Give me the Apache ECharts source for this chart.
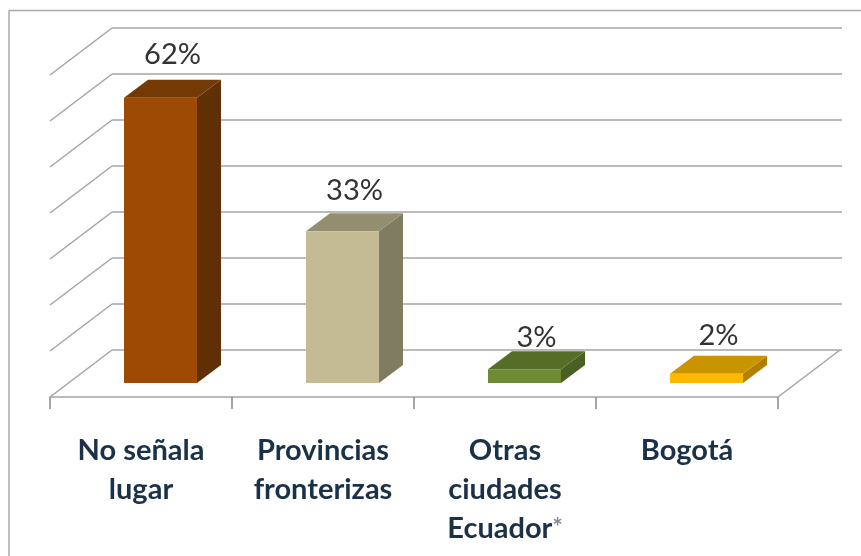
<!DOCTYPE html>
<html>
<head>
<meta charset="utf-8">
<script src="https://cdn.jsdelivr.net/npm/echarts@6/dist/echarts.min.js"></script>
<style>
  html, body { margin: 0; padding: 0; background: #fff; }
  #chart { width: 861px; height: 556px; }
</style>
</head>
<body>
<div id="chart"></div>
<script>
const categories = ['No señala\nlugar', 'Provincias\nfronterizas', 'Otras\nciudades\nEcuador{star|*}', 'Bogotá']
const values     = [62, 33, 3, 2]
const wallTicks  = [0, 10, 20, 30, 40, 50, 60, 70]
const frontFills = ['#9c4a04', '#c4bb94', '#6f8a35', '#fdb900']
const topFills   = ['#733a05', '#948e70', '#556d27', '#c99400']
const sideFills  = ['#5f3003', '#807c62', '#4a5f22', '#b37f00']

// fake 3d: floor depth of the whole plot, then the bar's own depth
const WALL_DX = 62, WALL_DY = 47
const BAR_DX = 24, BAR_DY = 18
const BAR_SHIFT_X = 19.5, BAR_SHIFT_Y = 14, BAR_W = 73
const LABEL_LIFT = [25, 23, 14, 20]
const LINE = '#a4a4a4'

const c = echarts.init(document.getElementById('chart'))

function renderWall(params, api) {
  const v = api.value(0)
  const [, y0] = api.coord([0, v])
  const grid = params.coordSys
  const back = y0 - WALL_DY
  const children = [
    { type: 'line', shape: { x1: grid.x, y1: y0, x2: grid.x + WALL_DX, y2: back },
      style: { stroke: LINE, lineWidth: 1.5 } },
    { type: 'line', shape: { x1: grid.x + WALL_DX, y1: back, x2: grid.x + grid.width + WALL_DX + 2, y2: back },
      style: { stroke: LINE, lineWidth: 1.5 } },
  ]
  if (v === 0) {
    children.push({ type: 'line',
      shape: { x1: grid.x + grid.width, y1: y0, x2: grid.x + grid.width + WALL_DX, y2: back },
      style: { stroke: LINE, lineWidth: 1.5 } })
  }
  return { type: 'group', children }
}

function renderBar(params, api) {
  const i = params.dataIndex
  const [cx, base] = api.coord([i, 0])
  const [, top] = api.coord([i, api.value(1)])
  const l = cx + BAR_SHIFT_X - BAR_W / 2
  const r = l + BAR_W
  const b = base - BAR_SHIFT_Y
  const t = top - BAR_SHIFT_Y
  return {
    type: 'group',
    children: [
      { type: 'polygon', shape: { points: [[r, b], [r + BAR_DX, b - BAR_DY], [r + BAR_DX, t - BAR_DY], [r, t]] },
        style: { fill: sideFills[i] } },
      { type: 'polygon', shape: { points: [[l, t], [r, t], [r + BAR_DX, t - BAR_DY], [l + BAR_DX, t - BAR_DY]] },
        style: { fill: topFills[i] } },
      { type: 'rect', shape: { x: l, y: t, width: BAR_W, height: b - t },
        style: { fill: frontFills[i] } },
      { type: 'text',
        style: {
          x: l + (BAR_W + BAR_DX) / 2, y: t - BAR_DY - LABEL_LIFT[i],
          text: api.value(1) + '%',
          fill: '#333', fontFamily: 'Lato', fontSize: 29, align: 'center', verticalAlign: 'middle',
        } },
    ],
  }
}

c.setOption({
  animation: false,
  backgroundColor: '#fff',
  // picture frame: only top and left edges show in the crop
  graphic: [
    { type: 'line', silent: true, z: -1, shape: { x1: 9, y1: 10.5, x2: 861, y2: 10.5 },
      style: { stroke: '#aaa', lineWidth: 1.5 } },
    { type: 'line', silent: true, z: -1, shape: { x1: 9, y1: 10.5, x2: 9, y2: 556 },
      style: { stroke: '#aaa', lineWidth: 1.5 } },
  ],
  grid: { left: 50, right: 83, top: 75, bottom: 159 },
  xAxis: {
    type: 'category',
    data: categories,
    axisLine: { show: true, lineStyle: { color: LINE, width: 1.5 } },
    axisTick: { show: true, length: 12, lineStyle: { color: '#888', width: 1.5 } },
    axisLabel: {
      color: '#1b3148', interval: 0, margin: 34, align: 'center',
      fontFamily: 'Lato', fontWeight: 'bold', fontSize: 29, lineHeight: 39,
      rich: { star: { color: '#888', fontFamily: 'Lato', fontSize: 24, lineHeight: 39 } },
    },
  },
  yAxis: { type: 'value', min: 0, max: 70, interval: 10, show: false, splitLine: { show: false } },
  series: [
    { type: 'custom', renderItem: renderWall, data: wallTicks.map(v => [v]), encode: { y: 0 }, clip: false, silent: true },
    { type: 'custom', renderItem: renderBar, data: values.map((v, i) => [i, v]), encode: { x: 0, y: 1 }, clip: false, silent: true, z: 3 },
  ],
})
</script>
</body>
</html>
